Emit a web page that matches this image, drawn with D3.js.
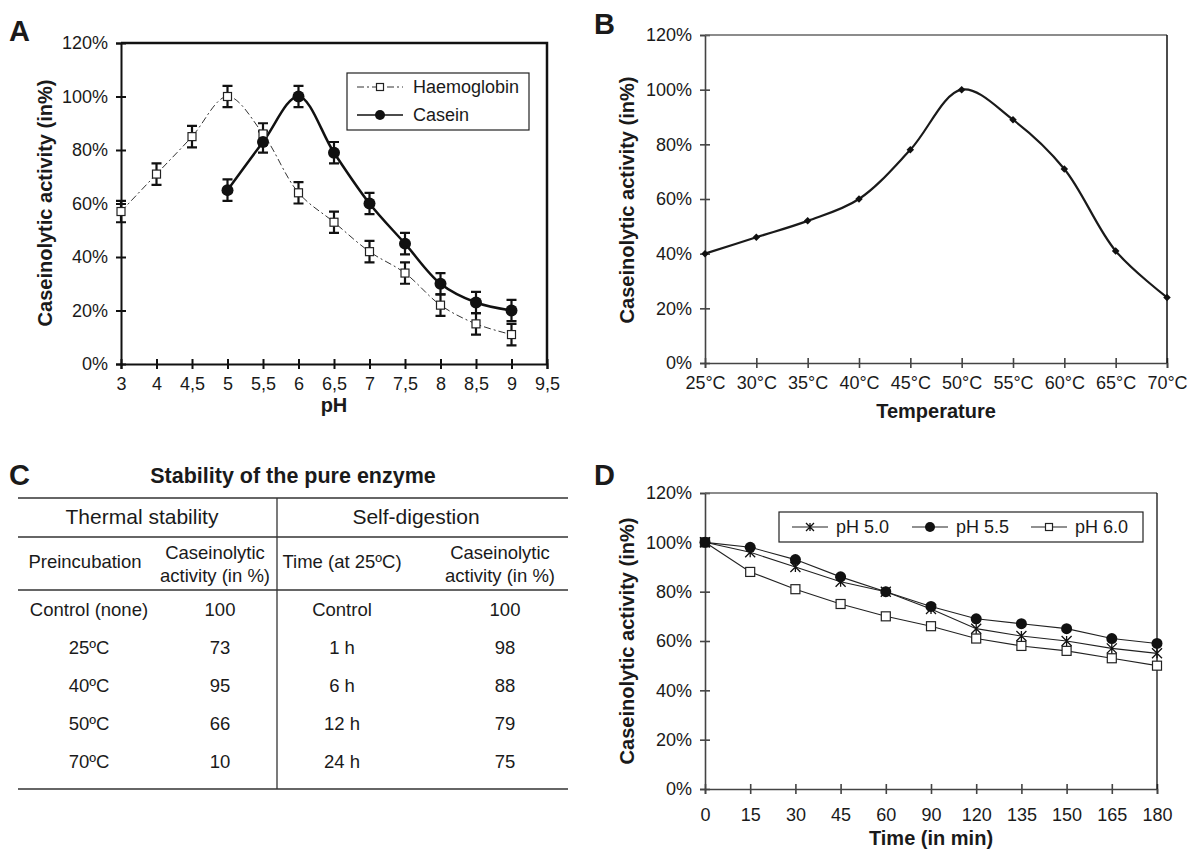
<!DOCTYPE html>
<html><head><meta charset="utf-8">
<script src="https://cdn.jsdelivr.net/npm/d3@7"></script>
<style>
body{margin:0;background:#fff}
text{font-family:"Liberation Sans",Arial,sans-serif;fill:#1a1a1a}
</style>
</head><body>
<svg id="c" width="1187" height="849"></svg>
<script>
// ---------- DATA ----------
const yTickValues = [0, 20, 40, 60, 80, 100, 120];
// Panel A
const phLabels = ["3","4","4,5","5","5,5","6","6,5","7","7,5","8","8,5","9","9,5"];
const haemoglobinPH = ["3","4","4,5","5","5,5","6","6,5","7","7,5","8","8,5","9"];
const haemoglobin = [57, 71, 85, 100, 86, 64, 53, 42, 34, 22, 15, 11];
const haemoglobinErr = [4, 4, 4, 4, 4, 4, 4, 4, 4, 4, 4, 4];
const caseinPH = ["5","5,5","6","6,5","7","7,5","8","8,5","9"];
const casein = [65, 83, 100, 79, 60, 45, 30, 23, 20];
const caseinErr = [4, 4, 4, 4, 4, 4, 4, 4, 4];
// Panel B
const tempLabels = ["25°C","30°C","35°C","40°C","45°C","50°C","55°C","60°C","65°C","70°C"];
const tempActivity = [40, 46, 52, 60, 78, 100, 89, 71, 41, 24];
// Panel C
const tableTitle = "Stability of the pure enzyme";
const groupHeaders = ["Thermal stability", "Self-digestion"];
const thermalRows = ["Control (none)", "25ºC", "40ºC", "50ºC", "70ºC"];
const thermalValues = [100, 73, 95, 66, 10];
const digestRows = ["Control", "1 h", "6 h", "12 h", "24 h"];
const digestValues = [100, 98, 88, 79, 75];
// Panel D
const timeLabels = ["0","15","30","45","60","90","120","135","150","165","180"];
const ph50 = [100, 96, 90, 84, 80, 73, 65, 62, 60, 57, 55];
const ph55 = [100, 98, 93, 86, 80, 74, 69, 67, 65, 61, 59];
const ph60 = [100, 88, 81, 75, 70, 66, 61, 58, 56, 53, 50];

// ---------- HELPERS ----------
const svg = d3.select("#c");
const pct = d => d + "%";

function drawAxes(g, x, y, opt) {
  const [x0, x1] = x.range();
  const [y0, y1] = y.range(); // y0 bottom, y1 top
  if (opt.frame) {
    g.append("path")
      .attr("d", `M${x0},${y1}H${x1}V${y0}`)
      .attr("fill", "none").attr("stroke", opt.frameColor).attr("stroke-width", opt.frameWidth);
  }
  const ya = g.append("g").attr("transform", `translate(${x0},0)`)
    .call(d3.axisLeft(y).tickValues(yTickValues).tickFormat(pct).tickSizeOuter(0).tickSize(5).tickPadding(8));
  ya.selectAll(".tick line").attr("x1", 5);
  const xa = g.append("g").attr("transform", `translate(0,${y0})`)
    .call(d3.axisBottom(x).tickSizeOuter(0).tickSize(5).tickPadding(opt.xPad || 8));
  xa.selectAll(".tick line").attr("y1", -5);
  [ya, xa].forEach(a => {
    a.select(".domain").attr("stroke", opt.axisColor).attr("stroke-width", opt.axisWidth);
    a.selectAll(".tick line").attr("stroke", opt.axisColor).attr("stroke-width", opt.axisWidth);
    a.selectAll(".tick text").attr("font-size", 18).attr("font-family", '"Liberation Sans",Arial,sans-serif').attr("fill", "#1a1a1a");
  });
}

function yTitle(g, x, y, txt) {
  g.append("text").attr("transform", `translate(${x},${y}) rotate(-90)`)
    .attr("text-anchor", "middle").attr("font-size", 20).attr("font-weight", "bold").text(txt);
}
function xTitle(g, x, y, txt) {
  g.append("text").attr("x", x).attr("y", y).attr("text-anchor", "middle")
    .attr("font-size", 20).attr("font-weight", "bold").text(txt);
}
function panelLabel(x, y, t) {
  svg.append("text").attr("x", x).attr("y", y).attr("font-size", 29).attr("font-weight", "bold").text(t);
}
function square(g, cx, cy, s, fill) {
  g.append("rect").attr("x", cx - s/2).attr("y", cy - s/2).attr("width", s).attr("height", s)
    .attr("fill", fill).attr("stroke", "#222").attr("stroke-width", 1.2);
}
function asterisk(g, cx, cy, r) {
  g.append("path")
    .attr("d", `M${cx},${cy-r}V${cy+r}M${cx-r},${cy-r}L${cx+r},${cy+r}M${cx-r},${cy+r}L${cx+r},${cy-r}`)
    .attr("stroke", "#111").attr("stroke-width", 1.3).attr("fill", "none");
}

// ---------- PANEL A ----------
{
  const g = svg.append("g");
  const x = d3.scalePoint().domain(phLabels).range([121, 547]);
  const y = d3.scaleLinear().domain([0, 120]).range([364, 43]);
  drawAxes(g, x, y, {frame:true, frameColor:"#111", frameWidth:2.5, axisColor:"#111", axisWidth:2});
  const hd = haemoglobinPH.map((p, i) => ({p, v: haemoglobin[i], e: haemoglobinErr[i]}));
  const cd = caseinPH.map((p, i) => ({p, v: casein[i], e: caseinErr[i]}));
  const line = d3.line().x(d => x(d.p)).y(d => y(d.v)).curve(d3.curveCatmullRom.alpha(0.5));
  g.append("path").datum(hd).attr("d", line).attr("fill", "none")
    .attr("stroke", "#333").attr("stroke-width", 1).attr("stroke-dasharray", "7,3,2,3");
  g.append("path").datum(cd).attr("d", line).attr("fill", "none")
    .attr("stroke", "#111").attr("stroke-width", 2.5);
  const errbar = (d) => {
    const cx = x(d.p), t = y(d.v + d.e), b = y(d.v - d.e);
    g.append("path").attr("d", `M${cx},${t}V${b}M${cx-5},${t}H${cx+5}M${cx-5},${b}H${cx+5}`)
      .attr("stroke", "#111").attr("stroke-width", 2.2).attr("fill", "none");
  };
  hd.forEach(errbar);
  cd.forEach(errbar);
  hd.forEach(d => square(g, x(d.p), y(d.v), 8, "#fff"));
  g.selectAll("circle.cas").data(cd).enter().append("circle")
    .attr("cx", d => x(d.p)).attr("cy", d => y(d.v)).attr("r", 6).attr("fill", "#111");
  // legend
  g.append("rect").attr("x", 347).attr("y", 73).attr("width", 182).attr("height", 57)
    .attr("fill", "#fff").attr("stroke", "#222").attr("stroke-width", 1.2);
  g.append("line").attr("x1", 357).attr("x2", 403).attr("y1", 87).attr("y2", 87)
    .attr("stroke", "#333").attr("stroke-width", 1).attr("stroke-dasharray", "7,3,2,3");
  square(g, 380, 87, 7, "#fff");
  g.append("text").attr("x", 413).attr("y", 93).attr("font-size", 18).text("Haemoglobin");
  g.append("line").attr("x1", 357).attr("x2", 403).attr("y1", 115).attr("y2", 115)
    .attr("stroke", "#111").attr("stroke-width", 1.5);
  g.append("circle").attr("cx", 380).attr("cy", 115).attr("r", 5).attr("fill", "#111");
  g.append("text").attr("x", 413).attr("y", 121).attr("font-size", 18).text("Casein");
  yTitle(g, 52, 203, "Caseinolytic activity (in%)");
  xTitle(g, 334, 412, "pH");
  panelLabel(9, 41, "A");
}

// ---------- PANEL B ----------
{
  const g = svg.append("g");
  const x = d3.scalePoint().domain(tempLabels).range([705, 1167]);
  const y = d3.scaleLinear().domain([0, 120]).range([363, 35]);
  drawAxes(g, x, y, {frame:false, axisColor:"#444", axisWidth:1.6});
  g.append("line").attr("x1", 705).attr("x2", 1167).attr("y1", 35).attr("y2", 35).attr("stroke", "#666").attr("stroke-width", 1.3);
  g.append("line").attr("x1", 1167).attr("x2", 1167).attr("y1", 35).attr("y2", 363).attr("stroke", "#111").attr("stroke-width", 1.5);
  const d = tempLabels.map((t, i) => ({t, v: tempActivity[i]}));
  const line = d3.line().x(d => x(d.t)).y(d => y(d.v)).curve(d3.curveCatmullRom.alpha(0.5));
  g.append("path").datum(d).attr("d", line).attr("fill", "none").attr("stroke", "#1a1a1a").attr("stroke-width", 2.2);
  const sym = d3.symbol().type(d3.symbolDiamond2).size(36);
  g.selectAll("path.dia").data(d).enter().append("path")
    .attr("transform", p => `translate(${x(p.t)},${y(p.v)})`).attr("d", sym).attr("fill", "#111");
  yTitle(g, 634, 200, "Caseinolytic activity (in%)");
  xTitle(g, 936, 418, "Temperature");
  panelLabel(594, 34, "B");
}

// ---------- PANEL C ----------
{
  const g = svg.append("g");
  const stroke = "#333";
  g.append("text").attr("x", 293).attr("y", 483).attr("text-anchor", "middle")
    .attr("font-size", 21.5).attr("font-weight", "bold").text(tableTitle);
  const L = 18, R = 568, mid = 277;
  [498, 537, 590, 789].forEach(yy => g.append("line").attr("x1", L).attr("x2", R).attr("y1", yy).attr("y2", yy)
    .attr("stroke", stroke).attr("stroke-width", 1.3));
  g.append("line").attr("x1", mid).attr("x2", mid).attr("y1", 498).attr("y2", 789).attr("stroke", stroke).attr("stroke-width", 1.3);
  const t = (x, y, s, fs) => g.append("text").attr("x", x).attr("y", y).attr("text-anchor", "middle").attr("font-size", fs || 18.5).text(s);
  t(142, 524, groupHeaders[0], 21);
  t(416, 524, groupHeaders[1], 21);
  t(85, 568, "Preincubation", 18.5);
  t(215, 559, "Caseinolytic", 18.5);
  t(215, 582, "activity (in %)", 18.5);
  t(342, 568, "Time (at 25ºC)", 18.5);
  t(500, 559, "Caseinolytic", 18.5);
  t(500, 582, "activity (in %)", 18.5);
  const rowY = d3.scalePoint().domain(d3.range(thermalRows.length)).range([610, 762]);
  thermalRows.forEach((r, i) => { t(89, rowY(i) + 6, r); t(220, rowY(i) + 6, thermalValues[i]); });
  digestRows.forEach((r, i) => { t(342, rowY(i) + 6, r); t(505, rowY(i) + 6, digestValues[i]); });
  panelLabel(9, 485, "C");
}

// ---------- PANEL D ----------
{
  const g = svg.append("g");
  const x = d3.scalePoint().domain(timeLabels).range([705, 1157]);
  const y = d3.scaleLinear().domain([0, 120]).range([789, 493]);
  drawAxes(g, x, y, {frame:false, axisColor:"#444", axisWidth:1.6, xPad:14});
  g.append("line").attr("x1", 705).attr("x2", 1157).attr("y1", 493).attr("y2", 493).attr("stroke", "#666").attr("stroke-width", 1.3);
  g.append("line").attr("x1", 1157).attr("x2", 1157).attr("y1", 493).attr("y2", 789).attr("stroke", "#111").attr("stroke-width", 1.3);
  const line = d3.line().x((v, i) => x(timeLabels[i])).y(v => y(v));
  [ph60, ph50, ph55].forEach(s => g.append("path").datum(s).attr("d", line)
    .attr("fill", "none").attr("stroke", "#222").attr("stroke-width", 1.1));
  ph60.forEach((v, i) => square(g, x(timeLabels[i]), y(v), 9, "#fff"));
  ph50.forEach((v, i) => asterisk(g, x(timeLabels[i]), y(v), 5));
  g.selectAll("circle.p55").data(ph55).enter().append("circle")
    .attr("cx", (v, i) => x(timeLabels[i])).attr("cy", v => y(v)).attr("r", 5.5).attr("fill", "#111");
  // legend
  g.append("rect").attr("x", 779).attr("y", 512).attr("width", 364).attr("height", 30)
    .attr("fill", "#fff").attr("stroke", "#222").attr("stroke-width", 1.2);
  const ly = 527;
  const items = [["pH 5.0", 792], ["pH 5.5", 912], ["pH 6.0", 1031]];
  items.forEach(([lab, lx], i) => {
    g.append("line").attr("x1", lx).attr("x2", lx + 36).attr("y1", ly).attr("y2", ly).attr("stroke", "#222").attr("stroke-width", 1.1);
    if (i === 0) asterisk(g, lx + 18, ly, 4);
    if (i === 1) g.append("circle").attr("cx", lx + 18).attr("cy", ly).attr("r", 5).attr("fill", "#111");
    if (i === 2) square(g, lx + 18, ly, 7, "#fff");
    g.append("text").attr("x", lx + 44).attr("y", ly + 6).attr("font-size", 18).text(lab);
  });
  yTitle(g, 634, 641, "Caseinolytic activity (in%)");
  xTitle(g, 931, 845, "Time (in min)");
  panelLabel(594, 485, "D");
}
</script>
</body></html>
